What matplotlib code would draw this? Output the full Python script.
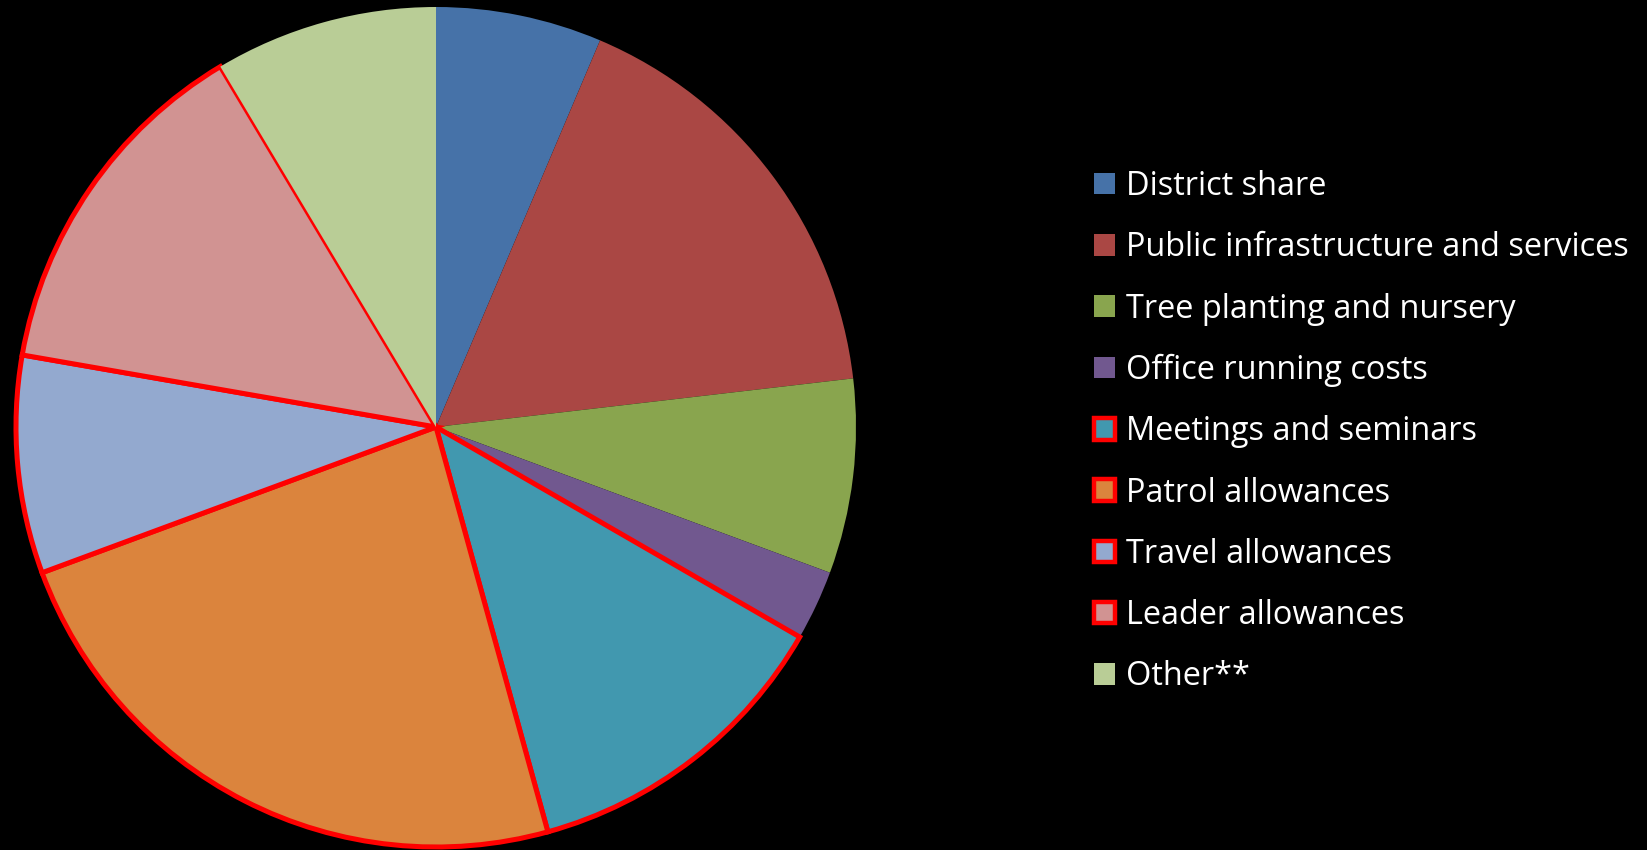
import matplotlib
matplotlib.use("Agg")
import matplotlib.pyplot as plt
from matplotlib.patches import Patch

categories = ["District share", "Public infrastructure and services", "Tree planting and nursery",
              "Office running costs", "Meetings and seminars", "Patrol allowances",
              "Travel allowances", "Leader allowances", "Other**"]
values = [6.4, 16.8, 7.5, 2.7, 12.4, 23.7, 8.4, 13.7, 8.6]
colors = ["#4672A8", "#AA4744", "#89A54E", "#71588F", "#4198AF", "#DB843D",
          "#93A9CF", "#D19392", "#B9CD96"]
highlighted = [False, False, False, False, True, True, True, True, False]

W, H = 1647, 850
fig = plt.figure(figsize=(W / 100, H / 100), dpi=100, facecolor="black")
cx, cy, r = 436, 427, 420
ax = fig.add_axes([(cx - r) / W, (H - cy - r) / H, 2 * r / W, 2 * r / H])
ax.set_facecolor("black")

wedges, _ = ax.pie(values, colors=colors, startangle=90, counterclock=False,
                   wedgeprops=dict(linewidth=0))
for w, h in zip(wedges, highlighted):
    if h:
        w.set_edgecolor("#FF0000")
        w.set_linewidth(3.6)
        w.set_joinstyle("miter")
    else:
        w.set_edgecolor("none")
ax.set_xlim(-1.0, 1.0)
ax.set_ylim(-1.0, 1.0)
ax.set_aspect("equal")
ax.axis("off")

handles = []
for c, h in zip(colors, highlighted):
    if h:
        handles.append(Patch(facecolor=c, edgecolor="#FF0000", linewidth=3.2))
    else:
        handles.append(Patch(facecolor=c, edgecolor="none"))

leg = fig.legend(handles, categories, loc="upper left",
                 bbox_to_anchor=(1094 / W, 1 - 170 / H), frameon=False,
                 prop={"family": "Open Sans", "size": 23.4},
                 labelcolor="white", handlelength=0.64, handleheight=0.64,
                 handletextpad=0.35, labelspacing=0.87, borderaxespad=0,
                 borderpad=0)

fig.savefig("out.png", dpi=100, facecolor="black")
